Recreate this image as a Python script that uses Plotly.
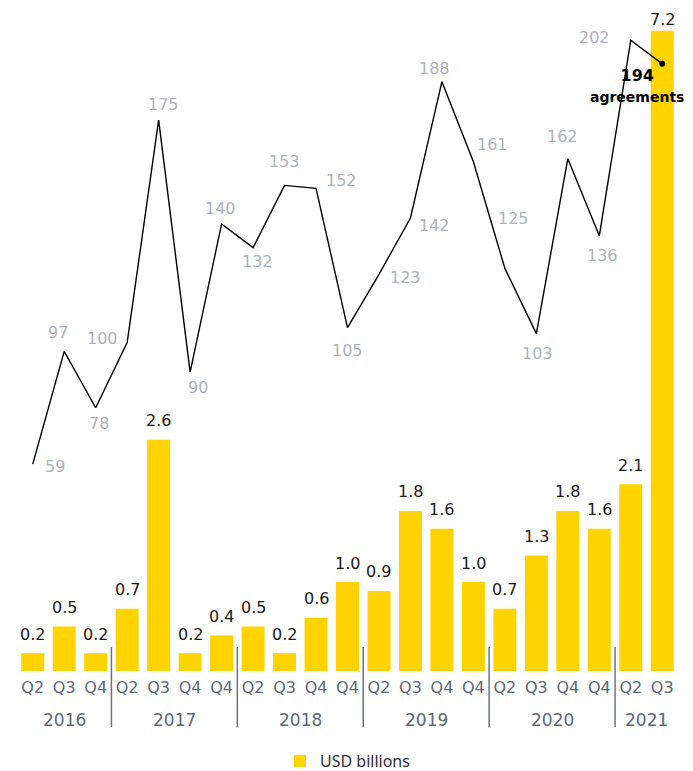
import plotly.graph_objects as go

# ---- data ----
quarters = ["Q2", "Q3", "Q4",
            "Q2", "Q3", "Q4", "Q4",
            "Q2", "Q3", "Q4", "Q4",
            "Q2", "Q3", "Q4", "Q4",
            "Q2", "Q3", "Q4", "Q4",
            "Q2", "Q3"]
years = ["2016", "2017", "2018", "2019", "2020", "2021"]
year_sizes = [3, 4, 4, 4, 4, 2]
usd_billions = [0.2, 0.5, 0.2, 0.7, 2.6, 0.2, 0.4, 0.5, 0.2, 0.6, 1.0,
                0.9, 1.8, 1.6, 1.0, 0.7, 1.3, 1.8, 1.6, 2.1, 7.2]
agreements = [59, 97, 78, 100, 175, 90, 140, 132, 153, 152, 105,
              123, 142, 188, 161, 125, 103, 162, 136, 202, 194]

# ---- style ----
# label offsets (dx, dy) in pixels for the agreement labels (dy: screen-down positive)
label_offsets = [(22, 2), (-6, -19), (3, 16), (-25, -4), (5, -16), (8, 15),
                 (-1, -15), (4, 14), (0, -24), (25, -8), (0, 23), (27, 3),
                 (24, 7), (-7, -13), (19, -17), (9, -50), (1, 20), (-5, -22),
                 (3, 20), (-36, -3), (-25, 22)]

FONT = "DejaVu Sans"
BAR_COLOR = "#FFD300"
GRAY_LABEL = "#AEB3BA"
AXIS_TEXT = "#5D6877"
DIVIDER = "#6B7280"

# the page body adds an 8px margin, so the figure is 16px smaller than the window
W, H = 685, 763
M_T, M_B = 12, 100
PLOT_H = H - M_T - M_B
Y1_MAX = 7.32
PPU = PLOT_H / Y1_MAX

x = list(range(len(quarters)))

fig = go.Figure()
fig.add_trace(go.Bar(
    x=x, y=usd_billions, name="USD billions",
    marker=dict(color=BAR_COLOR, line=dict(width=0)),
    width=0.73, yaxis="y", hoverinfo="skip",
))
fig.add_trace(go.Scatter(
    x=x, y=agreements, mode="lines", yaxis="y2", showlegend=False,
    line=dict(color="#000000", width=1.4), hoverinfo="skip",
))
fig.add_trace(go.Scatter(
    x=[x[-1]], y=[agreements[-1]], mode="markers", yaxis="y2", showlegend=False,
    marker=dict(color="#000000", size=6), hoverinfo="skip",
))

annotations = []
# bar value labels (kept inside the figure at the top)
for xi, v in zip(x, usd_billions):
    bar_top_px = M_T + (Y1_MAX - v) * PPU
    shift = min(19, bar_top_px - 12)
    annotations.append(dict(
        x=xi, y=v, xref="x", yref="y", text=f"{v:.1f}", showarrow=False,
        yanchor="middle", xanchor="center", yshift=shift,
        font=dict(family=FONT, size=16, color="#1a1a1a"),
    ))
# agreement labels
n = len(agreements)
for i, (xi, v) in enumerate(zip(x, agreements)):
    dx, dy = label_offsets[i]
    if i == n - 1:
        txt = f"<b>{v}</b><br><b><span style='font-size:14px'>agreements</span></b>"
        font = dict(family=FONT, size=16, color="#000000")
    else:
        txt = str(v)
        font = dict(family=FONT, size=16, color=GRAY_LABEL)
    annotations.append(dict(
        x=xi, y=v, xref="x", yref="y2", text=txt, showarrow=False,
        xanchor="center", yanchor="middle", xshift=dx, yshift=-dy,
        font=font, align="center",
    ))

# year labels and dividers
shapes = []
start = 0
for k, (yr, sz) in enumerate(zip(years, year_sizes)):
    center = start + (sz - 1) / 2
    annotations.append(dict(
        x=center, y=0, xref="x", yref="paper", text=yr, showarrow=False,
        xanchor="center", yanchor="middle", yshift=-49,
        font=dict(family=FONT, size=17, color=AXIS_TEXT),
    ))
    if k < len(years) - 1:
        xd = start + sz - 0.5
        shapes.append(dict(
            type="line", xref="x", yref="paper", x0=xd, x1=xd,
            y0=24 / PLOT_H, y1=-56 / PLOT_H,
            line=dict(color=DIVIDER, width=1.5),
        ))
    start += sz

fig.update_layout(
    width=W, height=H,
    margin=dict(l=9, r=15, t=M_T, b=M_B, autoexpand=False),
    plot_bgcolor="white", paper_bgcolor="white",
    bargap=0.27,
    showlegend=True,
    legend=dict(
        orientation="h", x=0.5, xanchor="center", y=10 / H, yanchor="middle",
        yref="container",
        font=dict(family="Noto Sans", size=16, color="#2E2E38"),
    ),
    xaxis=dict(
        range=[-0.5, len(quarters) - 0.5], tickmode="array", tickvals=x,
        ticktext=quarters, showgrid=False, zeroline=False, showline=False,
        ticks="", ticklabelstandoff=5,
        tickfont=dict(family=FONT, size=16, color=AXIS_TEXT),
        fixedrange=True,
    ),
    yaxis=dict(range=[0, Y1_MAX], visible=False, fixedrange=True),
    yaxis2=dict(range=[-10.8, 208.8], overlaying="y", visible=False,
                fixedrange=True),
    annotations=annotations,
    shapes=shapes,
)

fig.write_html("out.html")
